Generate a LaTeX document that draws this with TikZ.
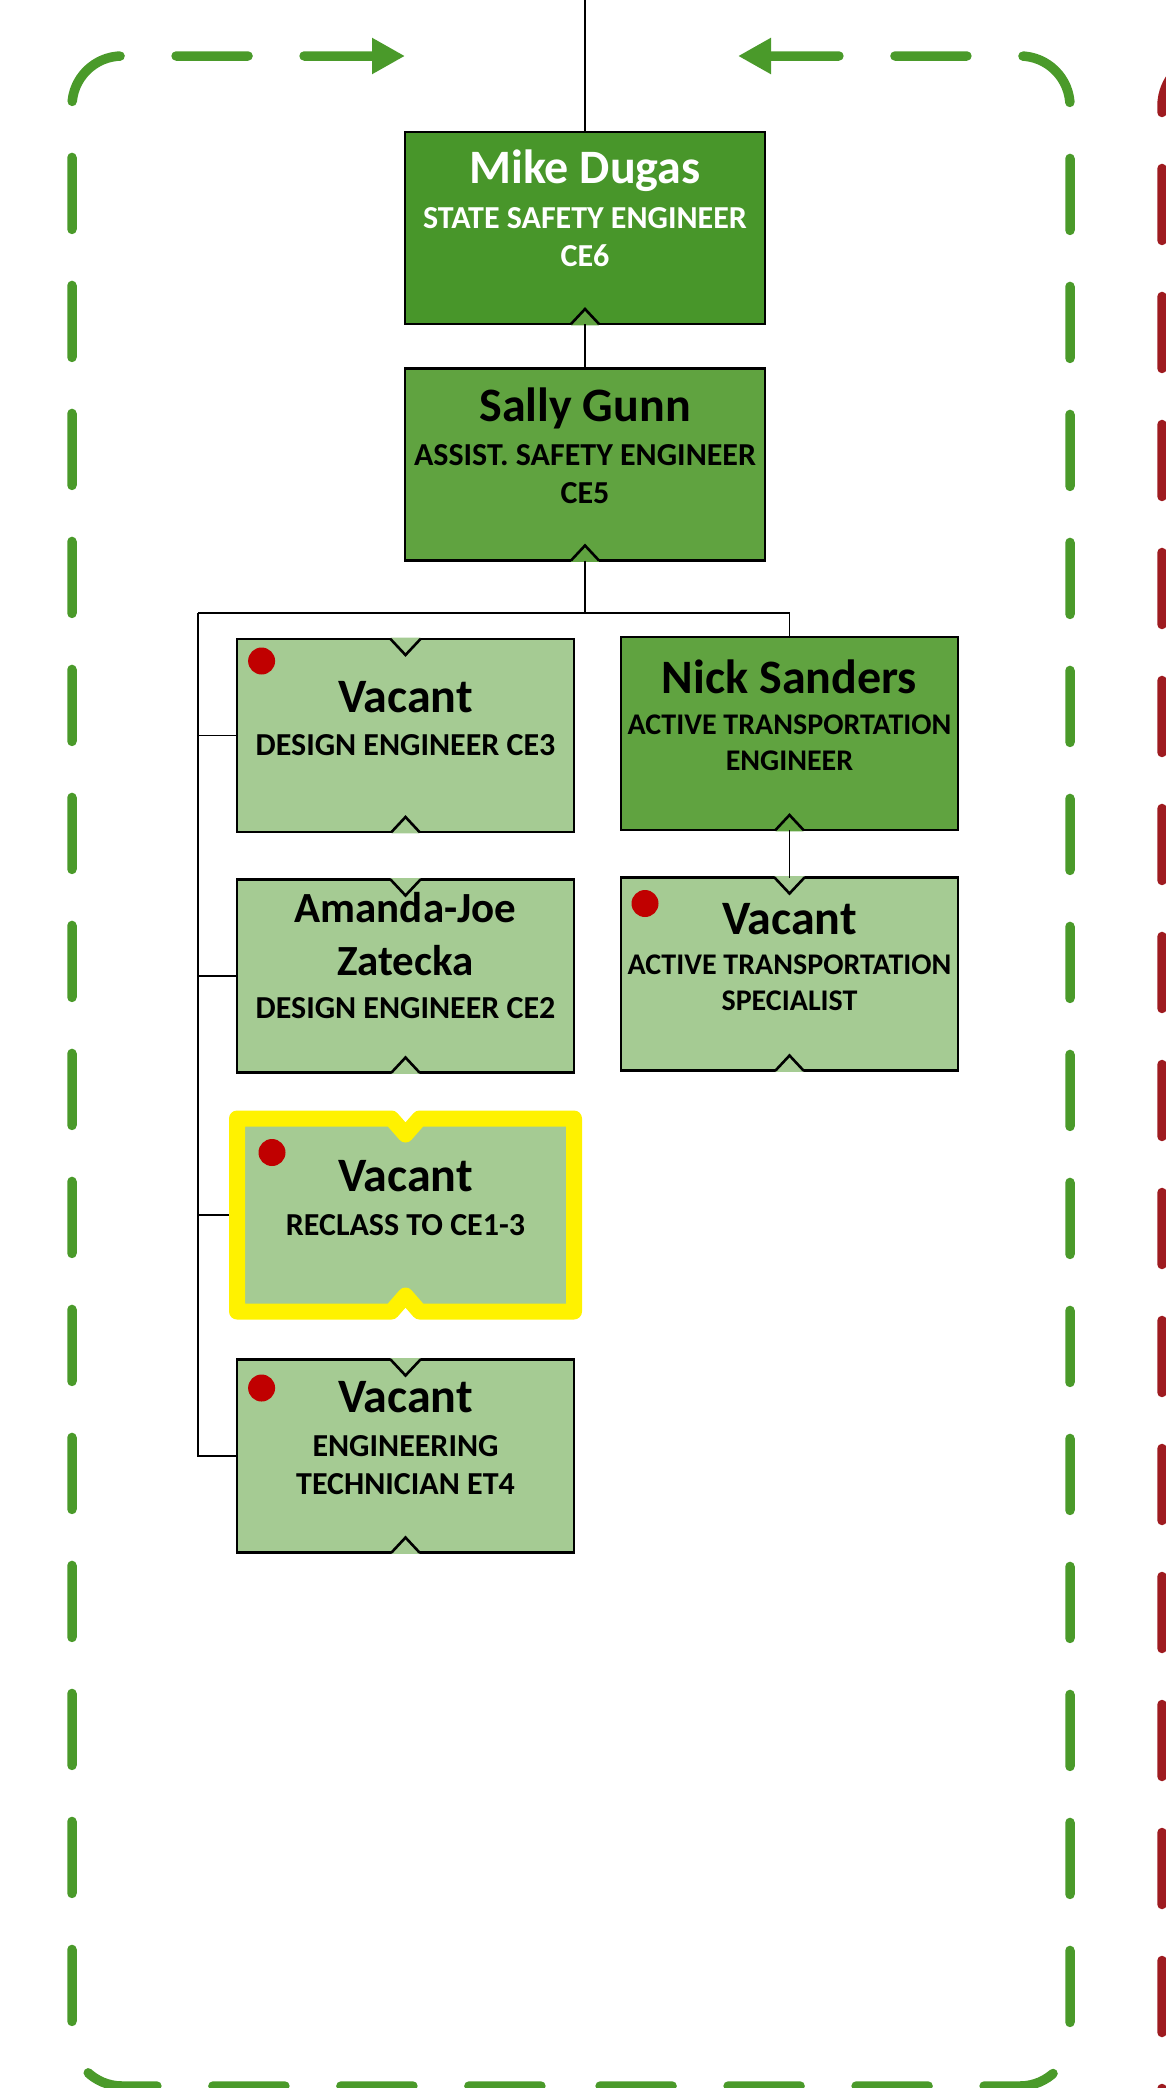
\documentclass[tikz,border=0pt]{standalone}
\usepackage{fontspec}
\setmainfont{Carlito}
\usetikzlibrary{positioning,arrows.meta}

\definecolor{darkgreen}{HTML}{48962A}
\definecolor{midgreen}{HTML}{60A340}
\definecolor{lightgreen}{HTML}{A5CB93}
\definecolor{dashgreen}{HTML}{4A9A2A}
\definecolor{dashred}{HTML}{9E1B20}
\definecolor{vacantred}{HTML}{C00000}

\tikzset{
  posbox/.style={draw=black, line width=2.6pt, minimum width=337pt, minimum height=193pt, inner sep=0pt, outer sep=0pt},
  topbox/.style={posbox, minimum width=360pt, minimum height=192pt},
  nametext/.style={font=\fontsize{48}{53.6}\selectfont\bfseries, inner sep=0pt, anchor=base, align=center},
  smallname/.style={nametext, font=\fontsize{43}{53.6}\selectfont\bfseries},
  titletext/.style={font=\fontsize{32}{38}\selectfont\bfseries, inner sep=0pt, anchor=base, align=center},
  smalltitle/.style={titletext, font=\fontsize{30}{36}\selectfont\bfseries},
  link/.style={draw=black, line width=1.8pt},
  vacdot/.style={circle, fill=vacantred, minimum size=27pt, inner sep=0pt},
  frame/.style={line width=9.5pt, line cap=round, rounded corners=50pt, dash pattern=on 72pt off 56pt},
}

\begin{document}
\begin{tikzpicture}[x=1pt, y=-1pt]
\useasboundingbox (0,0) rectangle (1165,2088);

% dashed frames
\draw[frame, dashgreen, dash phase=2pt, {Triangle[length=33pt,width=34pt]}-] (405,56) -- (72,56) -- (72,2086) -- (572,2086);
\draw[frame, dashgreen, dash phase=2pt, {Triangle[length=33pt,width=34pt]}-] (738,56) -- (1070,56) -- (1070,2086) -- (572,2086);
\draw[frame, dashred, dash phase=27pt] (1300,56) -- (1162,56) -- (1162,2200);

% boxes
\node[topbox, fill=darkgreen] (mike) at (585,228) {};
\node[topbox, fill=midgreen] (sally) at (585,464.5) {};
\node[posbox, fill=lightgreen] (ce3) at (405.5,735.5) {};
\node[posbox, fill=midgreen] (nick) at (789.5,733.5) {};
\node[posbox, fill=lightgreen] (amanda) at (405.5,976) {};
\node[posbox, fill=lightgreen] (atspec) at (789.5,974) {};
\node[posbox, draw=none] (reclass) at (405.5,1215) {};
\node[posbox, fill=lightgreen] (et4) at (405.5,1456) {};

% highlighted box
\draw[yellow, line width=16pt, line join=round, fill=lightgreen]
  (reclass.north west) -- ([xshift=-14pt]reclass.north) -- ([yshift=-16pt]reclass.north)
  -- ([xshift=14pt]reclass.north) -- (reclass.north east) -- (reclass.south east)
  -- ([xshift=14pt]reclass.south) -- ([yshift=16pt]reclass.south)
  -- ([xshift=-14pt]reclass.south) -- (reclass.south west) -- cycle;

% notches
\foreach \b in {ce3,amanda,et4,atspec} {
  \fill[lightgreen] ([xshift=-15pt,yshift=1.3pt]\b.north) -- ([xshift=15pt,yshift=1.3pt]\b.north) -- ([yshift=-16pt]\b.north) -- cycle;
  \draw[line width=2.6pt] ([xshift=-15pt]\b.north) -- ([yshift=-16pt]\b.north) -- ([xshift=15pt]\b.north);
}
\foreach \b/\c in {mike/midgreen,sally/midgreen,nick/midgreen,ce3/lightgreen,amanda/lightgreen,et4/lightgreen,atspec/lightgreen} {
  \fill[\c] ([xshift=-14pt,yshift=-1.3pt]\b.south) -- ([xshift=14pt,yshift=-1.3pt]\b.south) -- ([yshift=15pt]\b.south) -- cycle;
  \draw[line width=2.6pt] ([xshift=-14pt]\b.south) -- ([yshift=15pt]\b.south) -- ([xshift=14pt]\b.south);
}

% vacancy dots
\node[vacdot] (ce3-dot) at ([xshift=24.6pt,yshift=-22pt]ce3.north west) {};
\node[vacdot] (atspec-dot) at ([xshift=24pt,yshift=-26pt]atspec.north west) {};
\node[vacdot] (reclass-dot) at ([xshift=35pt,yshift=-34pt]reclass.north west) {};
\node[vacdot] (et4-dot) at ([xshift=24.6pt,yshift=-28.5pt]et4.north west) {};

% texts (base = last line)
\node[nametext, white] (mike-name) at (585,183) {Mike Dugas};
\node[titletext, white] (mike-title) at (585,266.7) {STATE SAFETY ENGINEER\\CE6};
\node[nametext] (sally-name) at (585,421.5) {Sally Gunn};
\node[titletext] (sally-title) at (585,503) {ASSIST. SAFETY ENGINEER\\CE5};
\node[nametext] (ce3-name) at (405.5,712) {Vacant};
\node[titletext] (ce3-title) at (405.5,755) {DESIGN ENGINEER CE3};
\node[nametext] (nick-name) at (789.5,693) {Nick Sanders};
\node[smalltitle] (nick-title) at (789.5,770) {ACTIVE TRANSPORTATION\\ENGINEER};
\node[smallname] (amanda-name) at (405.5,975.6) {Amanda-Joe\\Zatecka};
\node[titletext] (amanda-title) at (405.5,1018.5) {DESIGN ENGINEER CE2};
\node[nametext] (atspec-name) at (789.5,934) {Vacant};
\node[smalltitle] (atspec-title) at (789.5,1010) {ACTIVE TRANSPORTATION\\SPECIALIST};
\node[nametext] (reclass-name) at (405.5,1191.7) {Vacant};
\node[titletext] (reclass-title) at (405.5,1235) {RECLASS TO CE1-3};
\node[nametext] (et4-name) at (405.5,1412) {Vacant};
\node[titletext] (et4-title) at (405.5,1494) {ENGINEERING\\TECHNICIAN ET4};

% connectors
\coordinate (up) at (585,0);
\coordinate (bus) at (198,613);
\path[link] (up) edge (mike.north)
            (mike.south) edge (sally.north)
            (nick.south) edge (atspec.north);
\draw[link] (sally.south) -- (sally.south |- bus);
\draw[link] (bus) -| (nick.north);
\draw[link] (bus) |- (et4.west);
\draw[link] (bus |- ce3.west) -- (ce3.west);
\draw[link] (bus |- amanda.west) -- (amanda.west);
\draw[link] (bus |- reclass.west) -- ([xshift=-8pt]reclass.west);

\end{tikzpicture}
\end{document}
